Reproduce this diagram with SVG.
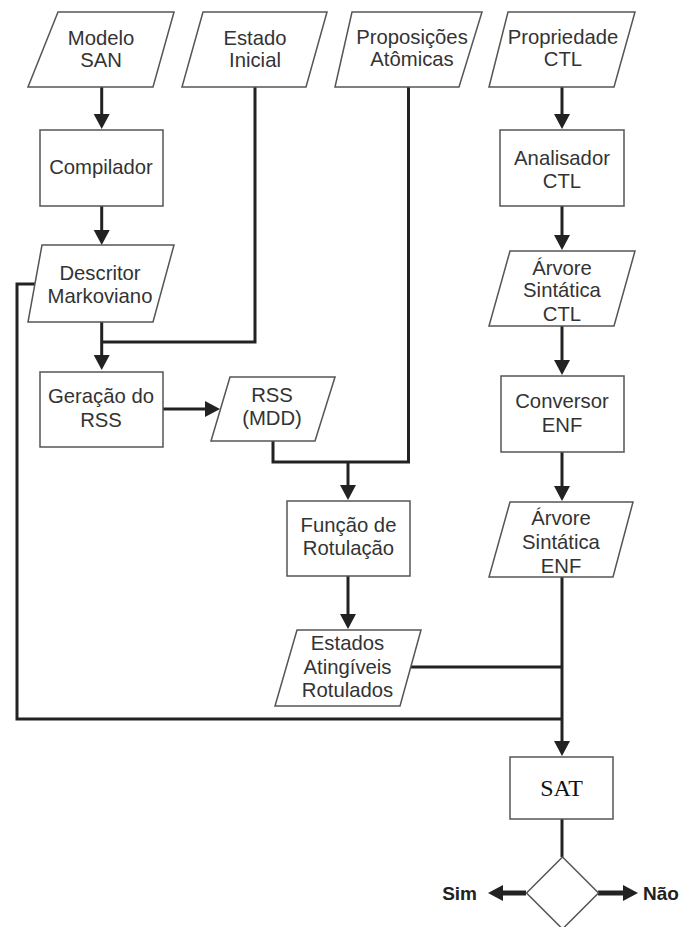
<svg xmlns="http://www.w3.org/2000/svg" width="683" height="927" viewBox="0 0 683 927">
<style>
.box{fill:#fff;stroke:#555;stroke-width:1.5}
.t{font-family:"Liberation Sans",Arial,sans-serif;font-size:20.3px;fill:#333;text-anchor:middle}
.c{fill:none;stroke:#222;stroke-width:3}
.b{fill:none;stroke:#222;stroke-width:5}
.lbl{font-family:"Liberation Sans",Arial,sans-serif;font-size:19px;font-weight:bold;fill:#222}
</style>
<defs>
<marker id="ah" markerUnits="userSpaceOnUse" markerWidth="16" markerHeight="16" refX="0" refY="8" orient="auto" overflow="visible">
<path d="M0,0 L15,8 L0,16 Z" fill="#222"/>
</marker>
</defs>
<rect width="683" height="927" fill="#fff"/>
<g id="connectors">
<path class="c" d="M101.7,87 V114" marker-end="url(#ah)"/>
<path class="c" d="M101.7,206 V230" marker-end="url(#ah)"/>
<path class="c" d="M101.7,322 V355" marker-end="url(#ah)"/>
<path class="c" d="M255,87 V342 H101.7"/>
<path class="c" d="M163,409 H205" marker-end="url(#ah)"/>
<path class="c" d="M408.5,87 V462 H273 V441"/>
<path class="c" d="M348,462 V485" marker-end="url(#ah)"/>
<path class="c" d="M35,284 H17 V719 H562"/>
<path class="c" d="M562,87 V114" marker-end="url(#ah)"/>
<path class="c" d="M562,206 V235" marker-end="url(#ah)"/>
<path class="c" d="M562,326 V360" marker-end="url(#ah)"/>
<path class="c" d="M562,452 V486" marker-end="url(#ah)"/>
<path class="c" d="M562,577 V741" marker-end="url(#ah)"/>
<path class="c" d="M348,576 V614" marker-end="url(#ah)"/>
<path class="c" d="M411,667 H562"/>
<path class="c" d="M562,819 V857"/>
<path class="b" d="M526,893 H503" marker-end="url(#ah)"/>
<path class="b" d="M598,893 H623" marker-end="url(#ah)"/>
</g>
<g id="modelo-san">
<polygon class="box" points="58,12 174,12 153,87 28,87"/>
<text class="t" x="101" y="44.5">Modelo</text>
<text class="t" x="101" y="66.5">SAN</text>
</g>
<g id="estado-inicial">
<polygon class="box" points="203,12 327,12 306,87 182,87"/>
<text class="t" x="255" y="44.5">Estado</text>
<text class="t" x="255" y="66.5">Inicial</text>
</g>
<g id="proposicoes">
<polygon class="box" points="352,12 482,12 459,87 335,87"/>
<text class="t" x="412" y="43.5">Proposições</text>
<text class="t" x="412" y="66">Atômicas</text>
</g>
<g id="propriedade-ctl">
<polygon class="box" points="508,12 635,12 614,87 489,87"/>
<text class="t" x="563" y="43.5">Propriedade</text>
<text class="t" x="563" y="66">CTL</text>
</g>
<g id="compilador">
<rect class="box" x="40" y="130" width="123" height="76"/>
<text class="t" x="101" y="174">Compilador</text>
</g>
<g id="analisador-ctl">
<rect class="box" x="500" y="130" width="124" height="76"/>
<text class="t" x="562" y="165">Analisador</text>
<text class="t" x="562" y="187.5">CTL</text>
</g>
<g id="descritor">
<polygon class="box" points="42,245 174,245 153,322 28,322"/>
<text class="t" x="100" y="279.5">Descritor</text>
<text class="t" x="100" y="302.5">Markoviano</text>
</g>
<g id="arvore-ctl">
<polygon class="box" points="510,251 635,251 614,326 489,326"/>
<text class="t" x="562" y="274.5">Árvore</text>
<text class="t" x="562" y="297">Sintática</text>
<text class="t" x="562" y="320.5">CTL</text>
</g>
<g id="geracao-rss">
<rect class="box" x="40" y="372" width="123" height="75"/>
<text class="t" x="101" y="403">Geração do</text>
<text class="t" x="101" y="426.5">RSS</text>
</g>
<g id="rss-mdd">
<polygon class="box" points="230,377 335,377 315,441 211,441"/>
<text class="t" x="272" y="401.5">RSS</text>
<text class="t" x="272" y="424.5">(MDD)</text>
</g>
<g id="conversor-enf">
<rect class="box" x="501" y="376" width="123" height="76"/>
<text class="t" x="562" y="408">Conversor</text>
<text class="t" x="562" y="431.5">ENF</text>
</g>
<g id="funcao-rotulacao">
<rect class="box" x="287" y="501" width="123" height="75"/>
<text class="t" x="348.5" y="531.5">Função de</text>
<text class="t" x="348.5" y="555">Rotulação</text>
</g>
<g id="arvore-enf">
<polygon class="box" points="510,502 633,502 613,577 489,577"/>
<text class="t" x="561" y="525">Árvore</text>
<text class="t" x="561" y="548.5">Sintática</text>
<text class="t" x="561" y="573">ENF</text>
</g>
<g id="estados-rotulados">
<polygon class="box" points="297,630 421,630 400,706 275,706"/>
<text class="t" x="347.5" y="650">Estados</text>
<text class="t" x="347.5" y="673.5">Atingíveis</text>
<text class="t" x="347.5" y="697">Rotulados</text>
</g>
<g id="sat">
<rect class="box" x="510" y="757" width="103" height="62"/>
<text x="561.5" y="796" font-family="'Liberation Serif','Times New Roman',serif" font-size="24" fill="#111" text-anchor="middle">SAT</text>
</g>
<g id="decisao">
<polygon class="box" points="562.5,857 598.5,893 562.5,929 526.5,893"/>
</g>
<g id="sim">
<text class="lbl" x="477" y="899.5" text-anchor="end">Sim</text>
</g>
<g id="nao">
<text class="lbl" x="643" y="899.5">Não</text>
</g>
</svg>
